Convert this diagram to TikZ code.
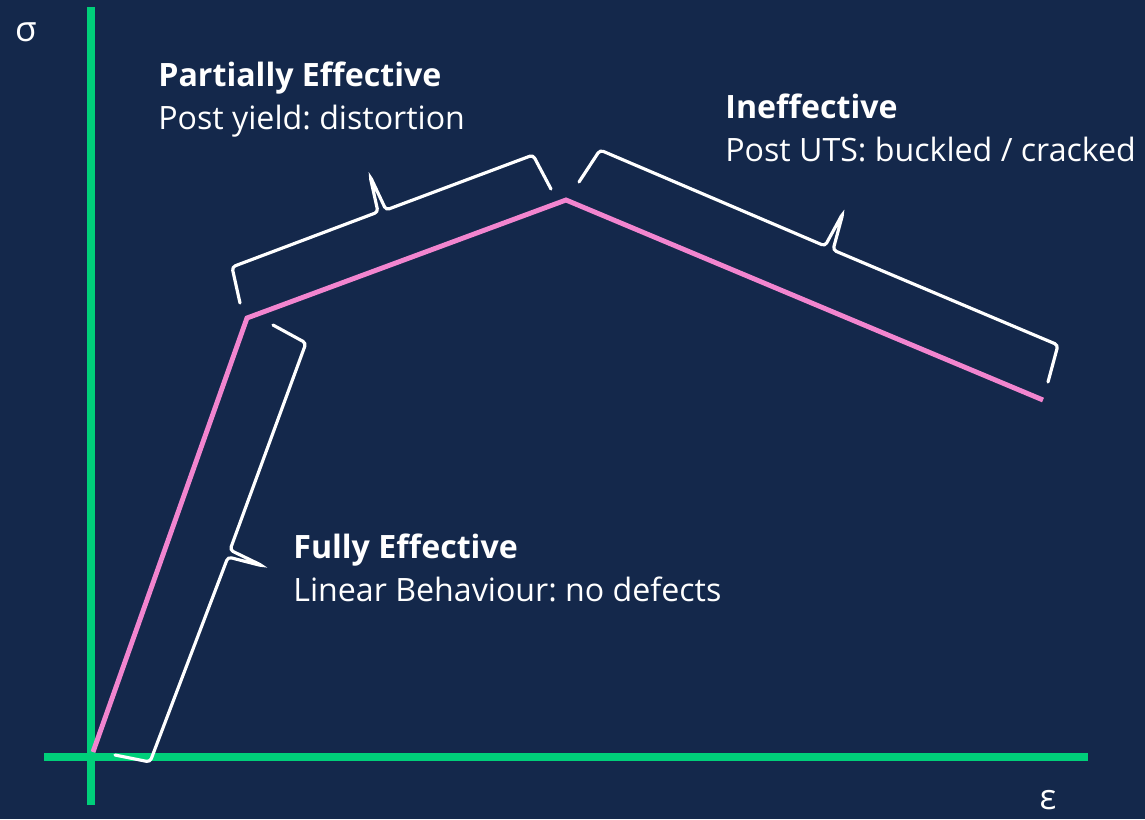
\documentclass[tikz,border=0pt]{standalone}
\usepackage{fontspec}
\setmainfont{Open Sans}
\usepackage{tikz}
\usetikzlibrary{calc}
\definecolor{NavyBack}{HTML}{14284B}
\definecolor{AxisGreen}{HTML}{00CF7A}
\definecolor{CurvePink}{HTML}{F285CF}
\frenchspacing
\tikzset{
  % Axis line
  AX/.style={draw=AxisGreen,line width=4.5pt},
  % Stress-strain curve
  CV/.style={draw=CurvePink,line width=2.8pt,line join=miter},
  % Brace
  BR/.style={draw=white,line width=1.8pt,rounded corners=2pt,line cap=round},
  % Label styles
  LT/.style={anchor=base west,inner sep=0pt,text=white,font=\fontsize{18.3}{21}\selectfont\bfseries},
  LD/.style={anchor=base west,inner sep=0pt,text=white,font=\fontsize{18.3}{21}\selectfont},
  SY/.style={inner sep=0pt,text=white,font=\fontsize{20}{23}\selectfont}
}

\begin{document}
\begin{tikzpicture}[x=0.02cm,y=-0.02cm]
  \fill[NavyBack] (0,0) rectangle (1145,819);
  \useasboundingbox (0,0) rectangle (1145,819);

  % axes
  \coordinate (ytop) at (91,7);
  \coordinate (ybot) at (91,805);
  \coordinate (xlft) at (44,757);
  \coordinate (xrgt) at (1088,757);
  \draw[AX] (ybot)--(ytop);
  \draw[AX] (xlft)--(xrgt);
  \node[SY] (sigma) at (26,32) {σ};
  \node[SY] (eps)   at (1048,800) {ε};

  % curve
  \coordinate (orig)  at (93,752);
  \coordinate (yield) at (247,318);
  \coordinate (uts)   at (566,200);
  \coordinate (fail)  at (1043,400);
  \draw[CV] (orig)--(yield)--(uts)--(fail);

  % braces
  \draw[BR] (115,755)--(150,762)--(228,557)--(263,566)--(230,550)--(306,343)--(273,325);
  \draw[BR] (240,303)--(232,267)--(378,212)--(370,176)--(386,210)--(533,155)--(551,189);
  \draw[BR] (579,182)--(600,150)--(825,246)--(843,213)--(833,250)--(1058,345)--(1048,382);

  % labels
  \node[LT] (partT) at (158,86) {Partially Effective};
  \node[LD] (partD) at ($(partT.base west)+(0,43)$) {Post yield: distortion};
  \node[LT] (ineffT) at (725,118) {Ineffective};
  \node[LD] (ineffD) at ($(ineffT.base west)+(0,43)$) {Post UTS: buckled / cracked};
  \node[LT] (fullT) at (293,558) {Fully Effective};
  \node[LD] (fullD) at ($(fullT.base west)+(0,43)$) {Linear Behaviour: no defects};
\end{tikzpicture}
\end{document}
